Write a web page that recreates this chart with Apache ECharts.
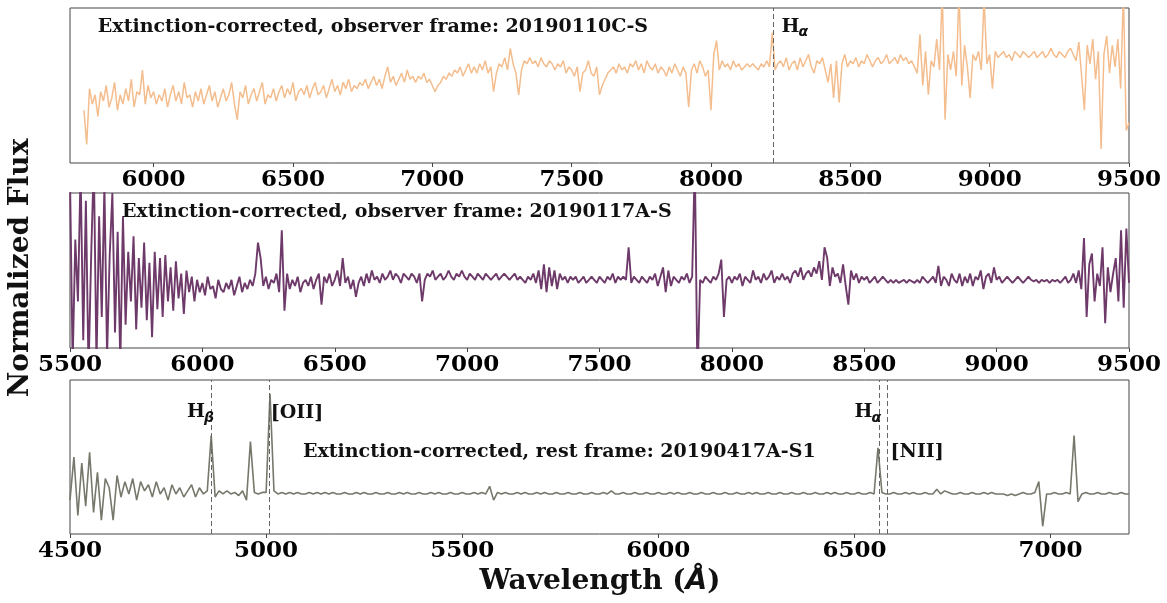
<!DOCTYPE html>
<html>
<head>
<meta charset="utf-8">
<script src="https://cdn.jsdelivr.net/npm/echarts@6/dist/echarts.min.js"></script>
<style>
html,body{margin:0;padding:0;background:#fff;}
#c{width:1167px;height:603px;}
</style>
</head>
<body>
<div id="c"></div>
<script>
// ---------- DATA (flux in panel-relative units 0..100) ----------
// Panel 1: 20190110C-S, observer frame, 10 Å sampling starting at 5750 Å
const wl1Start = 5750, wl1Step = 10;
const flux1 = [
34,12,48,38,44,30,46,40,50,36,
42,52,34,44,38,48,40,54,36,46,
44,60,38,50,42,46,38,44,40,48,
36,44,50,40,46,38,52,42,44,36,
46,40,48,38,44,50,40,46,36,42,
48,40,44,52,38,28,46,42,50,38,
44,48,40,46,52,38,44,42,48,40,
46,50,42,48,44,52,40,46,48,44,
50,42,48,52,44,46,50,42,48,54,
46,50,44,52,48,54,46,50,48,52,
50,54,48,52,56,50,54,48,56,62,
52,56,50,54,58,52,60,54,56,52,
56,54,58,52,54,50,46,50,52,56,
54,58,56,60,58,62,56,60,64,58,
62,58,64,60,66,58,62,46,58,64,
62,68,60,74,64,58,44,60,66,64,
68,64,66,62,68,64,62,66,64,60,
64,62,66,58,62,60,56,62,46,58,
60,66,58,56,62,44,50,54,58,60,
62,58,64,60,62,58,64,62,66,60,
64,58,66,62,60,64,58,62,60,56,
62,58,64,60,56,62,58,36,60,64,
58,66,62,56,60,34,70,79,60,66,
62,64,60,66,62,64,60,62,64,62,
64,62,60,64,62,66,62,84,60,64,
66,62,68,60,64,66,60,68,62,66,
70,62,58,66,64,68,60,52,64,42,
66,39,64,70,62,66,64,68,62,66,
64,70,66,62,66,68,64,66,70,64,
66,68,64,70,66,68,64,66,62,58,
83,50,72,44,66,62,80,60,110,28,
70,60,72,56,110,50,76,62,42,70,
66,72,60,106,64,70,48,72,68,70,
72,68,70,66,72,70,68,72,70,68,
70,72,68,70,72,68,70,74,70,68,
72,70,68,72,74,70,66,78,56,34,
76,64,80,54,72,9,70,82,58,76,
62,80,48,110,21,26
];
// Panel 2: 20190117A-S, observer frame, 10 Å sampling starting at 5500 Å
const wl2Start = 5500, wl2Step = 10;
const flux2 = [
110,-10,70,30,115,5,95,-15,60,120,
-10,85,20,105,-5,60,100,10,75,-10,
85,15,62,30,72,12,58,26,68,18,
55,7,62,25,58,20,60,30,52,24,
56,32,48,22,50,36,46,30,44,36,
42,34,46,38,40,32,44,38,36,42,
38,44,34,40,46,36,42,38,44,40,
48,68,58,40,46,38,44,42,48,36,
76,24,48,38,44,40,46,36,42,44,
40,46,38,44,48,28,46,42,48,40,
44,50,40,58,42,46,38,44,33,42,
46,40,48,42,50,44,46,42,48,44,
46,50,44,48,46,42,48,46,44,48,
46,42,48,30,44,48,46,50,44,46,
48,44,46,50,46,44,48,46,50,46,
44,48,46,44,48,46,44,48,46,44,
46,48,44,46,48,46,44,46,48,44,
46,44,42,46,44,48,42,50,38,54,
36,52,40,50,38,48,44,46,42,46,
44,46,42,44,46,42,44,46,44,42,
46,44,42,46,44,48,42,46,44,46,
44,65,42,46,44,42,46,44,42,46,
44,48,40,46,52,36,50,40,46,44,
42,46,44,48,42,46,120,-20,44,42,
46,44,42,46,44,48,57,20,44,46,
42,46,44,48,40,46,44,42,50,44,
46,42,48,44,46,50,42,46,44,48,
44,46,42,48,50,46,52,44,48,50,
46,52,48,56,44,65,58,40,52,46,
48,42,54,40,28,50,44,48,42,46,
44,46,42,44,46,42,44,46,44,42,
44,42,44,42,43,44,42,44,43,42,
44,42,46,44,42,44,46,42,53,40,
46,44,40,48,44,42,48,40,46,42,
48,40,46,44,50,38,46,48,42,52,
44,46,42,44,46,44,42,44,46,44,
42,44,46,44,43,44,42,44,43,44,
42,44,43,44,42,44,46,42,44,48,
42,50,38,71,20,54,61,30,48,40,
65,16,52,36,48,58,30,76,26,77,
42
];
// Panel 3: 20190417A-S1, rest frame, 10 Å sampling starting at 4500 Å
const wl3Start = 4500, wl3Step = 10;
const flux3 = [
22,50,12,46,18,53,14,40,9,36,
30,9,38,24,34,26,36,22,34,28,
32,24,34,26,30,22,32,26,30,24,
28,32,24,30,26,28,64,24,28,26,
28,26,27,25,28,22,60,27,26,27,
27,91,28,26,27,26,27,26,27,26,
26,27,26,27,26,27,26,27,26,26,
27,26,26,27,26,27,26,26,27,26,
26,27,26,26,27,26,27,26,26,27,
26,26,27,26,27,26,26,27,26,26,
27,26,26,27,26,27,26,31,22,27,
26,27,26,26,27,26,27,26,26,27,
26,27,26,26,27,26,26,27,26,26,
27,26,26,27,26,26,27,26,28,26,
26,27,26,26,27,26,26,27,26,26,
27,26,26,27,26,27,26,26,27,26,
26,27,26,26,27,26,26,27,26,26,
27,26,26,27,26,27,26,26,27,26,
26,27,26,26,27,26,26,27,26,26,
27,26,26,27,26,27,26,26,27,26,
26,27,26,26,27,26,56,27,26,26,
27,26,26,27,26,27,26,26,27,26,
26,29,26,28,27,26,26,27,26,26,
27,26,26,27,26,27,26,26,26,25,
26,25,26,27,26,26,27,34,5,26,
26,27,26,26,27,26,64,21,26,27,
26,26,27,26,26,27,26,26,27,26,
26
];
// Axis ranges and tick labels
const xRange1 = [5700, 9500], ticks1 = [6000,6500,7000,7500,8000,8500,9000,9500];
const xRange2 = [5500, 9500], ticks2 = [5500,6000,6500,7000,7500,8000,8500,9000,9500];
const xRange3 = [4500, 7200], ticks3 = [4500,5000,5500,6000,6500,7000];
// Line markers (Å)
const lines1 = [8222];
const lines3 = [4861, 5007, 6563, 6583];
// Annotations: [gridIndex, wavelength, flux, text]
const titles = [
  [0, 5800, 87.7, 'Extinction-corrected, observer frame: 20190110C-S'],
  [1, 5696, 87.7, 'Extinction-corrected, observer frame: 20190117A-S'],
  [2, 5094, 53, 'Extinction-corrected, rest frame: 20190417A-S1'],
  [2, 5012, 78.5, '[OII]'],
  [2, 6592, 53, '[NII]']
];
// Greek-subscript line labels: [gridIndex, wavelength, flux, subscript]
const hLabels = [
  [0, 8253, 88, 'α'],
  [2, 4798, 79, 'β'],
  [2, 6500, 79, 'α']
];

// ---------- CHART ----------
const SERIF = '"DejaVu Serif", serif';
const colors = ['#f4bd8e', '#6e3a6a', '#76786b'];
function pairs(start, step, arr){ return arr.map((v,i)=>[start+i*step, v]); }

const chart = echarts.init(document.getElementById('c'), null, {renderer:'canvas'});
const gridBase = {left:70, right:38, show:true, borderColor:'#444', borderWidth:1, backgroundColor:'#fff'};
const grids = [
  Object.assign({top:8, height:155}, gridBase),
  Object.assign({top:193, height:155}, gridBase),
  Object.assign({top:380, height:154}, gridBase)
];
function xAx(i, range, ticks){
  return {
    type:'value', gridIndex:i, min:range[0], max:range[1],
    axisLine:{show:false},
    splitLine:{show:false},
    axisTick:{show:true, length:4, inside:false, customValues:ticks, lineStyle:{color:'#444', width:1}},
    axisLabel:{show:true, customValues:ticks, margin:6, color:'#000', fontFamily:SERIF, fontWeight:'bold', fontSize:23,
      formatter: v => String(v)}
  };
}
function yAx(i){
  return {type:'value', gridIndex:i, min:0, max:100, show:true,
    axisLine:{show:false}, axisTick:{show:false}, axisLabel:{show:false}, splitLine:{show:false}};
}
function mark(vals){
  return {symbol:['none','none'], silent:true, animation:false, label:{show:false},
    lineStyle:{type:[5,3], color:'#666', width:1},
    data: vals.map(v=>({xAxis:v}))};
}
const option = {
  animation:false,
  backgroundColor:'#fff',
  grid: grids,
  xAxis: [xAx(0,xRange1,ticks1), xAx(1,xRange2,ticks2), xAx(2,xRange3,ticks3)],
  yAxis: [yAx(0), yAx(1), yAx(2)],
  series: [
    {type:'line', xAxisIndex:0, yAxisIndex:0, data:pairs(wl1Start,wl1Step,flux1), showSymbol:false, symbol:'none',
     lineStyle:{color:colors[0], width:1.5}, clip:true, markLine: mark(lines1)},
    {type:'line', xAxisIndex:1, yAxisIndex:1, data:pairs(wl2Start,wl2Step,flux2), showSymbol:false, symbol:'none',
     lineStyle:{color:colors[1], width:1.9}, clip:true},
    {type:'line', xAxisIndex:2, yAxisIndex:2, data:pairs(wl3Start,wl3Step,flux3), showSymbol:false, symbol:'none',
     lineStyle:{color:colors[2], width:1.6}, clip:true, markLine: mark(lines3)}
  ]
};
chart.setOption(option);

const g = [];
titles.forEach(t=>{
  const p = chart.convertToPixel({gridIndex:t[0]}, [t[1], t[2]]);
  g.push({type:'text', x:p[0], y:p[1], z:100, silent:true,
    style:{text:t[3], fill:'#111', fontFamily:SERIF, fontWeight:'bold', fontSize:19, align:'left', verticalAlign:'middle'}});
});
hLabels.forEach(t=>{
  const p = chart.convertToPixel({gridIndex:t[0]}, [t[1], t[2]]);
  g.push({type:'text', x:p[0], y:p[1], z:100, silent:true,
    style:{text:'H', fill:'#111', fontFamily:SERIF, fontWeight:'bold', fontSize:19, align:'left', verticalAlign:'middle'}});
  g.push({type:'text', x:p[0]+17, y:p[1]+6, z:100, silent:true,
    style:{text:t[3], fill:'#111', fontFamily:'"DejaVu Sans", sans-serif', fontWeight:'bold', fontStyle:'italic', fontSize:14, align:'left', verticalAlign:'middle'}});
});
g.push({type:'text', x:21, y:268, rotation:Math.PI/2, z:100, silent:true,
  style:{text:'Normalized Flux', fill:'#111', fontFamily:SERIF, fontWeight:'bold', fontSize:28, align:'center', verticalAlign:'middle'}});
g.push({type:'text', x:600, y:582, z:100, silent:true,
  style:{text:'{a|Wavelength (}{b|Å}{a|)}', align:'center', verticalAlign:'middle',
    rich:{a:{fill:'#111', fontFamily:SERIF, fontWeight:'bold', fontSize:28},
          b:{fill:'#111', fontFamily:'"DejaVu Sans", sans-serif', fontWeight:'bold', fontStyle:'italic', fontSize:28}}}});
chart.setOption({graphic:{elements:g}});
</script>
</body>
</html>
